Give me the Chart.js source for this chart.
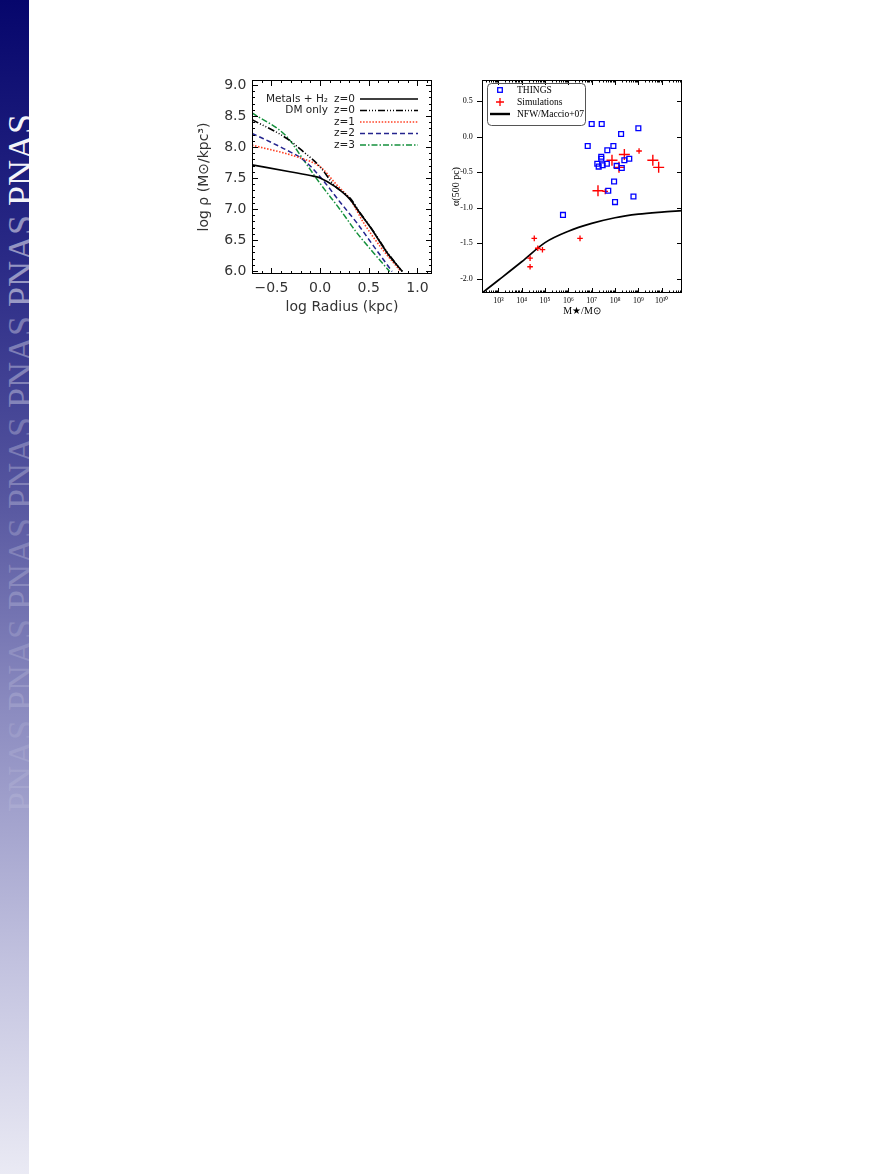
<!doctype html>
<html lang="en">
<head>
<meta charset="utf-8">
<title>Density profiles and inner slopes</title>
<script src="https://cdn.jsdelivr.net/npm/chart.js@4.4.1/dist/chart.umd.min.js"></script>
<style>
  body { margin:0; background:#fff; width:877px; height:1174px; position:relative; overflow:hidden; }
  #bar { position:absolute; left:0; top:0; width:29px; height:1174px;
         background: linear-gradient(to bottom, #06066c 0%, #2a2a86 22%, #55559f 42%, #8a8abf 60%, #c2c2df 82%, #eaeaf4 100%); }
  .pnas { position:absolute; left:0; width:29px; height:100px; line-height:29px;
          writing-mode: vertical-rl; transform: rotate(180deg);
          font: 36px "Liberation Serif", serif; color:#fff; white-space:nowrap; }
  canvas { position:absolute; }
</style>
</head>
<body>
<div id="bar"></div>
<div id="stamps"></div>
<!-- chart areas land at 252..432 x 80..274 and 482..682 x 80..293 -->
<canvas id="left" width="250" height="254" style="left:190px; top:66px;"></canvas>
<canvas id="right" width="260" height="264" style="left:440px; top:66px;"></canvas>

<script>
// ---- left panel: log density vs log radius ----
const metalsX = [-0.70, -0.31, -0.07, 0.00, 0.155, 0.31, 0.41, 0.535, 0.69, 0.845];
const metalsY = [7.71, 7.60, 7.53, 7.50, 7.36, 7.15, 6.93, 6.66, 6.29, 5.99];
const dmX = [-0.70, -0.345, -0.17, 0.00, 0.14, 0.31, 0.41, 0.535, 0.69, 0.845];
const dmY = [8.44, 8.14, 7.92, 7.68, 7.39, 7.17, 6.94, 6.67, 6.30, 5.99];
const z1X = [-0.70, -0.20, 0.00, 0.17, 0.31, 0.45, 0.62, 0.83];
const z1Y = [8.03, 7.82, 7.68, 7.39, 7.15, 6.77, 6.39, 5.99];
const z2X = [-0.70, -0.345, -0.17, 0.00, 0.21, 0.38, 0.55, 0.74];
const z2Y = [8.22, 7.95, 7.79, 7.52, 7.10, 6.77, 6.40, 5.99];
const z3X = [-0.70, -0.345, -0.17, 0.00, 0.21, 0.38, 0.55, 0.715];
const z3Y = [8.55, 8.17, 7.79, 7.41, 6.98, 6.61, 6.29, 5.99];
const leftNames = ["Metals + H\u2082", "DM only", "", "", ""];
const leftZ = ["z=0", "z=0", "z=1", "z=2", "z=3"];
const leftXTicks = [-0.5, 0.0, 0.5, 1.0];
const leftYTicks = [6.0, 6.5, 7.0, 7.5, 8.0, 8.5, 9.0];

// ---- right panel: inner slope vs stellar mass (log10 M*) ----
const thingsM = [7.00, 7.43, 9.00, 8.26, 6.83, 7.93, 7.67, 7.41, 7.41, 7.24, 7.30, 7.47, 7.65, 8.07, 8.29, 8.40, 8.61, 7.96, 7.71, 8.79, 8.00, 5.77];
const thingsA = [0.18, 0.18, 0.12, 0.04, -0.13, -0.13, -0.19, -0.28, -0.31, -0.38, -0.42, -0.40, -0.38, -0.41, -0.44, -0.33, -0.31, -0.63, -0.76, -0.84, -0.92, -1.10];
const simBigM = [7.87, 8.40, 8.17, 7.27, 9.62, 9.87];
const simBigA = [-0.33, -0.25, -0.43, -0.76, -0.33, -0.43];
const simSmallM = [9.03, 7.58, 4.54, 4.69, 4.89, 4.36, 4.36, 6.50];
const simSmallA = [-0.20, -0.77, -1.43, -1.57, -1.59, -1.71, -1.83, -1.43];
const nfwM = [2.3, 3, 4, 5, 6, 7, 8, 9, 10, 10.87];
const nfwA = [-2.2, -2.02, -1.76, -1.49, -1.33, -1.22, -1.14, -1.09, -1.06, -1.04];
const rightXTicks = [1e3, 1e4, 1e5, 1e6, 1e7, 1e8, 1e9, 1e10];
const rightXLabels = ["10\u00b3", "10\u2074", "10\u2075", "10\u2076", "10\u2077", "10\u2078", "10\u2079", "10\u00b9\u2070"];
const rightYTicks = [-2.0, -1.5, -1.0, -0.5, 0.0, 0.5];
const rightNames = ["THINGS", "Simulations", "NFW/Maccio+07"];

// side bar stamps
const stampAlpha = [0.95, 0.5, 0.34, 0.26, 0.2, 0.15, 0.1];
stampAlpha.forEach((a, i) => {
  const d = document.createElement("div");
  d.className = "pnas";
  d.style.top = (106 + i * 101) + "px";
  d.style.opacity = a;
  d.textContent = "PNAS";
  document.getElementById("stamps").appendChild(d);
});

const pts = (xs, ys) => xs.map((x, i) => ({x: x, y: ys[i]}));
const logPts = (xs, ys) => xs.map((x, i) => ({x: Math.pow(10, x), y: ys[i]}));

function tickFrame(o) {
  return {
    id: "tickFrame",
    afterDraw(chart) {
      const {ctx, chartArea: a, scales: {x, y}} = chart;
      ctx.save();
      ctx.strokeStyle = "#000";
      ctx.lineWidth = 1;
      ctx.beginPath();
      const seg = (x1, y1, x2, y2) => { ctx.moveTo(x1, y1); ctx.lineTo(x2, y2); };
      const xt = (vals, L) => vals.forEach(v => {
        const p = Math.round(x.getPixelForValue(v)) + 0.5;
        if (p < a.left || p > a.right) return;
        seg(p, a.bottom, p, a.bottom - L); seg(p, a.top, p, a.top + L);
      });
      const yt = (vals, L) => vals.forEach(v => {
        const p = Math.round(y.getPixelForValue(v)) + 0.5;
        if (p < a.top || p > a.bottom) return;
        seg(a.left, p, o.leftOut ? a.left - L : a.left + L, p); seg(a.right, p, a.right - L, p);
      });
      xt(o.xMajor, o.major); xt(o.xMinor, o.minor);
      yt(o.yMajor, o.major); yt(o.yMinor, o.minor);
      ctx.stroke();
      ctx.strokeRect(Math.round(a.left) + 0.5, Math.round(a.top) + 0.5,
                     Math.round(a.right - a.left) - 1, Math.round(a.bottom - a.top) - 1);
      ctx.restore();
    }
  };
}

const leftLegend = {
  id: "leftLegend",
  afterDraw(chart) {
    const {ctx, chartArea: a} = chart;
    ctx.save();
    ctx.font = "10.5px 'DejaVu Sans'";
    ctx.fillStyle = "#222";
    ctx.textBaseline = "middle";
    chart.data.datasets.forEach((ds, i) => {
      const yy = a.top + 19 + i * 11.5;
      ctx.textAlign = "right";
      ctx.fillText(leftNames[i], a.left + 76, yy);
      ctx.textAlign = "left";
      ctx.fillText(leftZ[i], a.left + 82, yy);
      ctx.beginPath();
      ctx.strokeStyle = ds.borderColor;
      ctx.lineWidth = ds.borderWidth;
      ctx.setLineDash(ds.borderDash || []);
      ctx.moveTo(a.left + 108, yy);
      ctx.lineTo(a.left + 166, yy);
      ctx.stroke();
    });
    ctx.restore();
  }
};

const rightLegend = {
  id: "rightLegend",
  afterDraw(chart) {
    const {ctx, chartArea: a} = chart;
    const bx = a.left + 5, by = a.top + 3, bw = 98, bh = 42;
    ctx.save();
    ctx.strokeStyle = "#555";
    ctx.lineWidth = 1;
    ctx.beginPath();
    ctx.roundRect(bx + 0.5, by + 0.5, bw, bh, 4);
    ctx.stroke();
    ctx.font = "9.5px 'Liberation Serif'";
    ctx.fillStyle = "#000";
    ctx.textBaseline = "middle";
    const mx = a.left + 18;
    rightNames.forEach((t, i) => {
      const yy = a.top + 10 + i * 12;
      ctx.fillText(t, a.left + 35, yy);
    });
    // markers
    let yy = a.top + 10;
    ctx.strokeStyle = "#0000ff"; ctx.lineWidth = 1.3;
    ctx.strokeRect(mx - 2.3, yy - 2.3, 4.6, 4.6);
    yy += 12;
    ctx.strokeStyle = "#ff0000"; ctx.lineWidth = 1.3;
    ctx.beginPath(); ctx.moveTo(mx - 4, yy); ctx.lineTo(mx + 4, yy); ctx.moveTo(mx, yy - 4); ctx.lineTo(mx, yy + 4); ctx.stroke();
    yy += 12;
    ctx.strokeStyle = "#000"; ctx.lineWidth = 2.4;
    ctx.beginPath(); ctx.moveTo(a.left + 8, yy); ctx.lineTo(a.left + 28, yy); ctx.stroke();
    ctx.restore();
  }
};

const range = (a, b, s) => { const r = []; for (let v = a; v <= b + 1e-9; v += s) r.push(Math.round(v * 10) / 10); return r; };

new Chart("left", {
  type: "scatter",
  data: {
    datasets: [
      {label: "Metals + H2 z=0", data: pts(metalsX, metalsY), borderColor: "#000", borderWidth: 1.7},
      {label: "DM only z=0", data: pts(dmX, dmY), borderColor: "#000", borderWidth: 1.6, borderDash: [7, 2, 1, 2, 1, 2, 1, 2]},
      {label: "z=1", data: pts(z1X, z1Y), borderColor: "#ff3f22", borderWidth: 1.6, borderDash: [1.5, 1.6]},
      {label: "z=2", data: pts(z2X, z2Y), borderColor: "#24248e", borderWidth: 1.5, borderDash: [5, 3]},
      {label: "z=3", data: pts(z3X, z3Y), borderColor: "#14903c", borderWidth: 1.5, borderDash: [6, 2, 1.5, 2]}
    ].map(d => Object.assign(d, {showLine: true, pointRadius: 0, fill: false, cubicInterpolationMode: "monotone"}))
  },
  options: {
    responsive: false,
    animation: false,
    layout: {padding: {left: 0, top: 0, right: 8, bottom: 0}},
    plugins: {legend: {display: false}, tooltip: {enabled: false}},
    scales: {
      x: {
        type: "linear", min: -0.7, max: 1.15,
        grid: {display: false, drawTicks: false}, border: {display: false},
        afterBuildTicks: s => { s.ticks = leftXTicks.map(v => ({value: v})); },
        afterFit: s => { s.height = 46; },
        ticks: {padding: 6, color: "#333", font: {family: "DejaVu Sans", size: 14}, maxRotation: 0,
                callback: v => (v < 0 ? "\u2212" : "") + Math.abs(v).toFixed(1)},
        title: {display: true, text: "log Radius (kpc)", color: "#333", font: {family: "DejaVu Sans", size: 14},
                padding: {top: 0, bottom: 4.6}}
      },
      y: {
        type: "linear", min: 5.95, max: 9.08,
        grid: {display: false, drawTicks: false}, border: {display: false},
        afterBuildTicks: s => { s.ticks = leftYTicks.map(v => ({value: v})); },
        afterFit: s => { s.width = 62; },
        ticks: {padding: 5.6, color: "#333", font: {family: "DejaVu Sans", size: 14}, callback: v => v.toFixed(1)},
        title: {display: true, text: "log \u03c1 (M\u2299/kpc\u00b3)", color: "#333", font: {family: "DejaVu Sans", size: 14},
                padding: {top: 5.6, bottom: 0}}
      }
    }
  },
  plugins: [tickFrame({xMajor: leftXTicks, xMinor: range(-0.7, 1.1, 0.1), yMajor: leftYTicks, yMinor: range(6.0, 9.0, 0.1),
                       major: 6, minor: 3, leftOut: false}), leftLegend]
});

const minorLog = [];
for (let d = 2; d <= 10; d++) for (let k = 2; k <= 9; k++) minorLog.push(k * Math.pow(10, d));

new Chart("right", {
  type: "scatter",
  data: {
    datasets: [
      {label: "THINGS", data: logPts(thingsM, thingsA), pointStyle: "rect", pointRadius: 3.4, borderColor: "#0000ff",
       backgroundColor: "rgba(0,0,0,0)", borderWidth: 1.3},
      {label: "Simulations", data: logPts(simBigM, simBigA), pointStyle: "cross", pointRadius: 5.5, borderColor: "#ff0000", borderWidth: 1.4},
      {label: "Simulations small", data: logPts(simSmallM, simSmallA), pointStyle: "cross", pointRadius: 2.8, borderColor: "#ff0000", borderWidth: 1.3},
      {label: "NFW/Maccio+07", data: logPts(nfwM, nfwA), showLine: true, pointRadius: 0, borderColor: "#000", borderWidth: 1.7,
       cubicInterpolationMode: "monotone", fill: false}
    ]
  },
  options: {
    responsive: false,
    animation: false,
    layout: {padding: {left: 0, top: 0, right: 18, bottom: 0}},
    plugins: {legend: {display: false}, tooltip: {enabled: false}},
    scales: {
      x: {
        type: "logarithmic", min: Math.pow(10, 2.3), max: Math.pow(10, 10.87),
        grid: {display: false, drawTicks: false}, border: {display: false},
        afterBuildTicks: s => { s.ticks = rightXTicks.map(v => ({value: v})); },
        afterFit: s => { s.height = 37; },
        ticks: {padding: 3, color: "#000", autoSkip: false, maxRotation: 0, font: {family: "Liberation Serif", size: 8},
                callback: function (v) { return rightXLabels[rightXTicks.indexOf(v)]; }},
        title: {display: true, text: "M\u2605/M\u2299", color: "#000", font: {family: "Liberation Serif", size: 10},
                padding: {top: 0, bottom: 13}}
      },
      y: {
        type: "linear", min: -2.2, max: 0.8,
        grid: {display: false, drawTicks: false}, border: {display: false},
        afterBuildTicks: s => { s.ticks = rightYTicks.map(v => ({value: v})); },
        afterFit: s => { s.width = 42; },
        ticks: {padding: 9.2, color: "#000", font: {family: "Liberation Serif", size: 8}, callback: v => v.toFixed(1)},
        title: {display: true, text: "\u03b1(500 pc)", color: "#000", font: {family: "Liberation Serif", size: 10},
                padding: {top: 10, bottom: 0}}
      }
    }
  },
  plugins: [tickFrame({xMajor: rightXTicks, xMinor: minorLog, yMajor: rightYTicks, yMinor: [], major: 5, minor: 2.5, leftOut: true}),
            rightLegend]
});
</script>
</body>
</html>
